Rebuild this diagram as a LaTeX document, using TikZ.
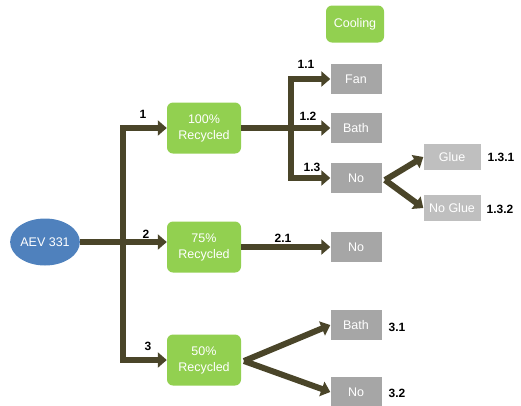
\documentclass[tikz,border=0pt]{standalone}
\usepackage{fontspec}
\setmainfont{Liberation Sans}
\usetikzlibrary{arrows.meta,shapes.geometric}
\definecolor{grn}{HTML}{92D050}
\definecolor{blu}{HTML}{4F81BD}
\definecolor{gry}{HTML}{A6A6A6}
\definecolor{lgry}{HTML}{BFBFBF}
\definecolor{arrc}{HTML}{4A4529}
\begin{document}
\begin{tikzpicture}[x=1pt,y=-1pt,
  every node/.style={font=\fontsize{12.5}{16}\selectfont, text=white, inner sep=0pt, align=center},
  greenbox/.style={fill=grn, rounded corners=6pt, minimum width=74pt, minimum height=51pt},
  graybox/.style={fill=gry, minimum width=51pt, minimum height=30pt},
  lightbox/.style={fill=lgry, minimum width=57pt, minimum height=26pt},
  lbl/.style={text=black, font=\fontsize{12}{14}\selectfont\bfseries},
  arr/.style={draw=arrc, line width=6pt, miter limit=10, -{Triangle[length=9pt,width=15pt]}},
  ln/.style={draw=arrc, line width=6pt}]
\useasboundingbox (0,0) rectangle (521,405);
% nodes
\node[ellipse, fill=blu, minimum width=65pt, minimum height=47pt] (aev) at (45,242) {AEV 331};
\node[greenbox] (r100) at (204,128) {100\%\\Recycled};
\node[greenbox] (r75) at (204,247) {75\%\\Recycled};
\node[greenbox] (r50) at (204,360) {50\%\\Recycled};
\node[greenbox, minimum width=58pt, minimum height=37pt] (cool) at (355,24) {Cooling};
\node[graybox] (fan) at (356,79) {Fan};
\node[graybox] (bath1) at (356,128) {Bath};
\node[graybox] (no1) at (356,178) {No};
\node[lightbox] (glue) at (452,157) {Glue};
\node[lightbox] (noglue) at (452,208) {No Glue};
\node[graybox] (no2) at (356,247) {No};
\node[graybox] (bath3) at (356,325) {Bath};
\node[graybox] (no3) at (356,392) {No};
% junctions
\coordinate (j1) at (123,242);
\coordinate (j2) at (291,128);
\coordinate (s3) at (244,361);
\coordinate (s13) at (385,180);
% connectors
\draw[ln] (aev.east) -- (j1);
\draw[arr] (j1) |- (r100.west);
\draw[arr] (j1) -- (j1 -| r75.west);
\draw[arr] (j1) |- (r50.west);
\draw[ln] (r100.east) -- (j2);
\draw[arr] (j2) |- (fan.west);
\draw[arr] (j2) -- (bath1.west);
\draw[arr] (j2) |- (no1.west);
\draw[arr] (r75.east) -- (no2.west);
\draw[arr] (s3) -- (bath3.west);
\draw[arr] (s3) -- (no3.west);
\draw[arr] (s13) -- (glue.west);
\draw[arr] (s13) -- (noglue.west);
% labels
\node[lbl] (l1) at (143,114) {1};
\node[lbl] (l2) at (146,234) {2};
\node[lbl] (l3) at (148,346) {3};
\node[lbl] (l11) at (306,64) {1.1};
\node[lbl] (l12) at (308,116) {1.2};
\node[lbl] (l13) at (312,167) {1.3};
\node[lbl] (l21) at (283,238) {2.1};
\node[lbl] (l131) at (501,157) {1.3.1};
\node[lbl] (l132) at (500,209) {1.3.2};
\node[lbl] (l31) at (397,327) {3.1};
\node[lbl] (l32) at (397,393) {3.2};
\end{tikzpicture}
\end{document}
